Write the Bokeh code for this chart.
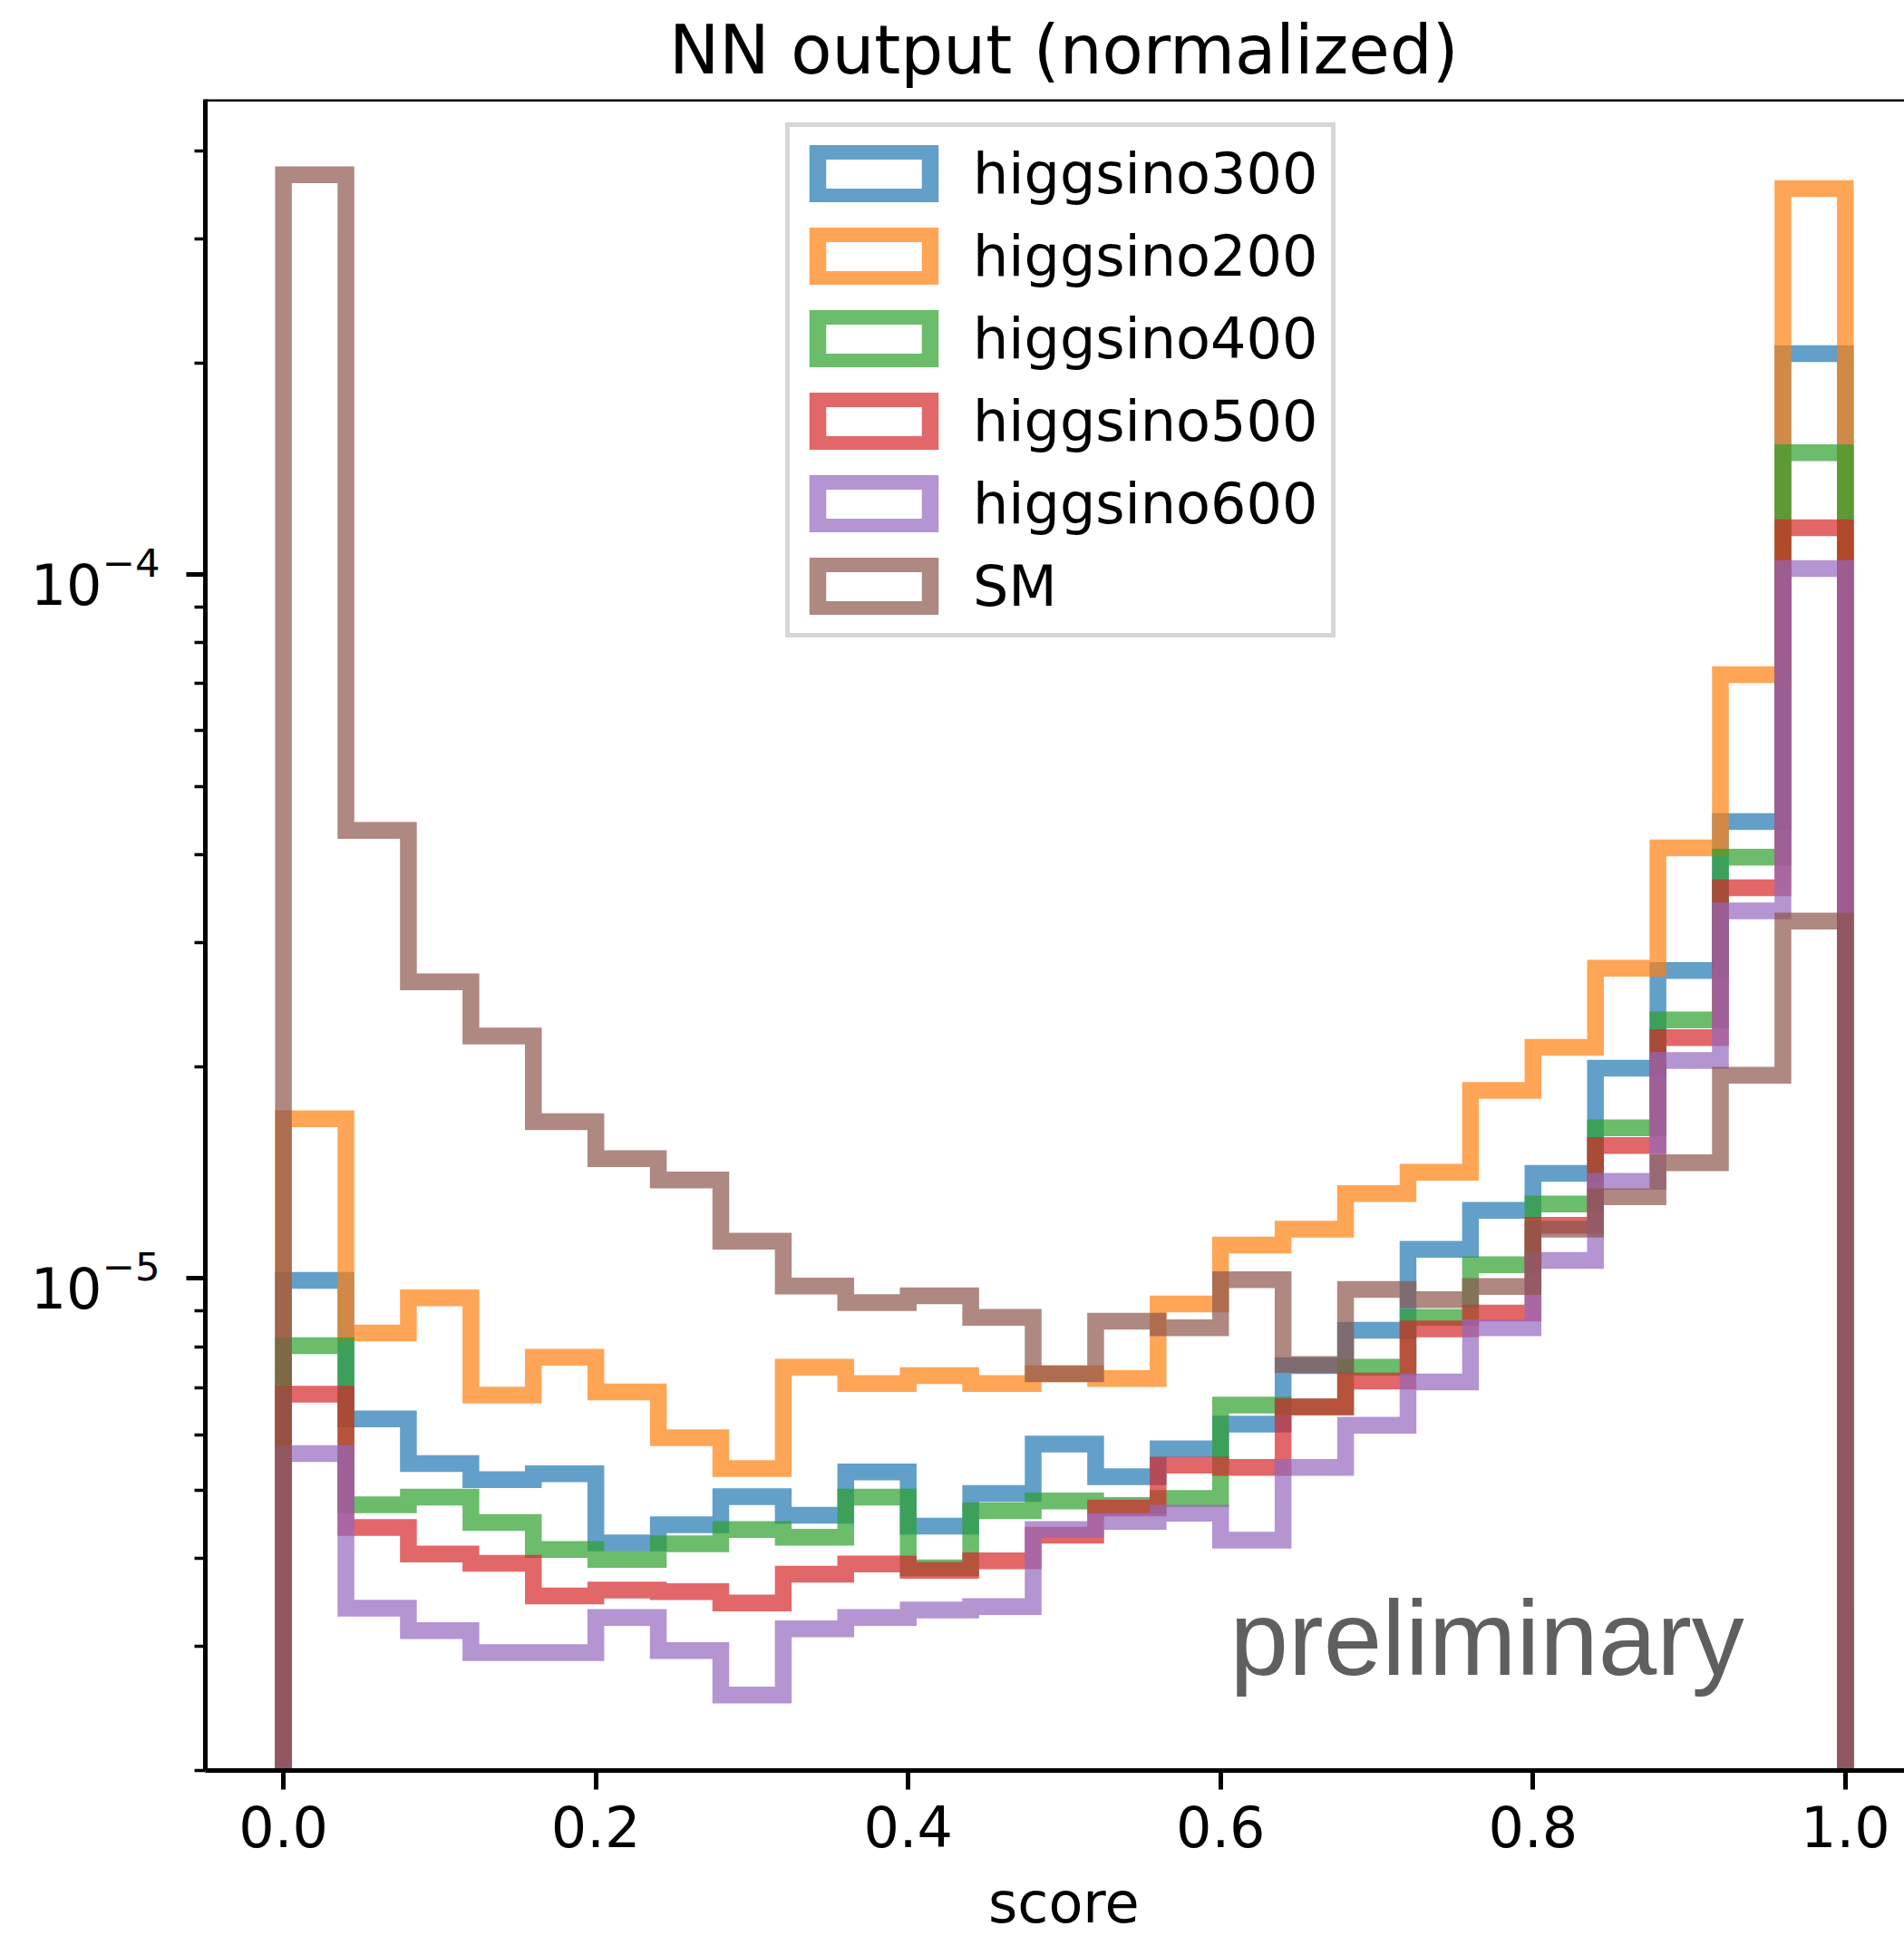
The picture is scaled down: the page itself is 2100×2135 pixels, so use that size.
import numpy as np
from bokeh.plotting import figure
from bokeh.models import (Range1d, FixedTicker, LogTickFormatter, PrintfTickFormatter,
                          Legend, LegendItem, Label, Span, Title)
from bokeh.embed import file_html
from bokeh.resources import INLINE

# ---------------- data ----------------
bin_edges = [0.00, 0.04, 0.08, 0.12, 0.16, 0.20, 0.24, 0.28, 0.32, 0.36, 0.40,
             0.44, 0.48, 0.52, 0.56, 0.60, 0.64, 0.68, 0.72, 0.76, 0.80,
             0.84, 0.88, 0.92, 0.96, 1.00]

higgsino300 = [9.94e-6, 6.32e-6, 5.46e-6, 5.18e-6, 5.28e-6, 4.21e-6, 4.47e-6, 4.90e-6,
               4.61e-6, 5.31e-6, 4.45e-6, 4.95e-6, 5.82e-6, 5.23e-6, 5.73e-6, 6.21e-6,
               7.52e-6, 8.44e-6, 1.10e-5, 1.25e-5, 1.41e-5, 1.99e-5, 2.74e-5, 4.46e-5, 2.06e-4]
higgsino200 = [1.686e-5, 8.37e-6, 9.39e-6, 6.83e-6, 7.73e-6, 6.90e-6, 5.94e-6, 5.37e-6,
               7.48e-6, 7.09e-6, 7.28e-6, 7.09e-6, 7.32e-6, 7.21e-6, 9.20e-6, 1.116e-5,
               1.175e-5, 1.32e-5, 1.416e-5, 1.85e-5, 2.13e-5, 2.76e-5, 4.09e-5, 7.21e-5, 3.535e-4]
higgsino400 = [8.03e-6, 4.77e-6, 4.89e-6, 4.50e-6, 4.12e-6, 3.99e-6, 4.20e-6, 4.40e-6,
               4.29e-6, 4.89e-6, 3.88e-6, 4.68e-6, 4.83e-6, 4.76e-6, 4.87e-6, 6.61e-6,
               6.57e-6, 7.48e-6, 8.81e-6, 1.046e-5, 1.276e-5, 1.637e-5, 2.33e-5, 3.97e-5, 1.49e-4]
higgsino500 = [6.85e-6, 4.43e-6, 4.06e-6, 3.94e-6, 3.54e-6, 3.61e-6, 3.59e-6, 3.46e-6,
               3.80e-6, 3.93e-6, 3.85e-6, 3.97e-6, 4.32e-6, 4.72e-6, 5.43e-6, 5.39e-6,
               6.57e-6, 7.15e-6, 8.48e-6, 8.93e-6, 1.19e-5, 1.545e-5, 2.20e-5, 3.59e-5, 1.166e-4]
higgsino600 = [5.64e-6, 3.40e-6, 3.16e-6, 2.94e-6, 2.94e-6, 3.30e-6, 2.96e-6, 2.56e-6,
               3.18e-6, 3.30e-6, 3.38e-6, 3.42e-6, 4.40e-6, 4.52e-6, 4.64e-6, 4.25e-6,
               5.39e-6, 6.19e-6, 7.13e-6, 8.51e-6, 1.061e-5, 1.374e-5, 2.04e-5, 3.33e-5, 1.02e-4]
SM = [3.70e-4, 4.33e-5, 2.64e-5, 2.21e-5, 1.67e-5, 1.48e-5, 1.38e-5, 1.13e-5,
      9.76e-6, 9.24e-6, 9.45e-6, 8.81e-6, 7.32e-6, 8.70e-6, 8.51e-6, 9.96e-6,
      7.55e-6, 9.65e-6, 9.33e-6, 9.74e-6, 1.175e-5, 1.307e-5, 1.46e-5, 1.945e-5, 3.22e-5]

series_names = ["higgsino300", "higgsino200", "higgsino400", "higgsino500", "higgsino600", "SM"]
series_values = [higgsino300, higgsino200, higgsino400, higgsino500, higgsino600, SM]
series_colors = ["#1f77b4", "#ff7f0e", "#2ca02c", "#d62728", "#9467bd", "#8c564b"]

x_ticks = [0.0, 0.2, 0.4, 0.6, 0.8, 1.0]
y_major_ticks = [1e-5, 1e-4]
y_minor_ticks = [m * 10.0 ** e for e in (-6, -5, -4) for m in range(2, 10)]

# ---------------- layout geometry (pixels) ----------------
FONT = "DejaVu Sans"
W, H = 2100, 2135
FRAME_L, FRAME_T, FRAME_B = 226, 109, 1952
px_per_unit = 1722.7
x_lo = -0.05
x_hi = x_lo + (W - FRAME_L) / px_per_unit
y_lo, y_hi = 2e-6, 4.735e-4
decade_px = (FRAME_B - FRAME_T) / np.log10(y_hi / y_lo)
AXES_CENTER = 0.5 * (1.05 - (-0.05)) * px_per_unit  # px from frame left to axes centre


def data_y(py):
    return 10 ** (np.log10(y_lo) + (FRAME_B - py) / decade_px)


p = figure(width=W, height=H, output_backend="svg", toolbar_location=None,
           x_range=Range1d(x_lo, x_hi), y_range=Range1d(y_lo, y_hi),
           y_axis_type="log",
           min_border_left=FRAME_L, min_border_right=0,
           min_border_top=FRAME_T, min_border_bottom=H - FRAME_B)
p.outline_line_color = None
p.grid.visible = False
p.background_fill_color = "white"
p.border_fill_color = "white"

# title (left-aligned with an offset so that it is centred on the full axes)
TITLE_TEXT = "NN output (normalized)"
TITLE_SIZE = 74
p.title.text = TITLE_TEXT
p.title.align = "left"
p.title.offset = AXES_CENTER - 0.5 * 11.785 * TITLE_SIZE
p.title.text_font = FONT
p.title.text_font_size = f"{TITLE_SIZE}px"
p.title.text_font_style = "normal"
p.title.text_color = "black"
p.title.vertical_align = "top"
p.title.standoff = 20

# x axis
xa = p.xaxis[0]
xa.ticker = FixedTicker(ticks=x_ticks)
xa.formatter = PrintfTickFormatter(format="%.1f")
xa.axis_line_width = 5
xa.major_tick_line_width = 5
xa.major_tick_out = 21
xa.major_tick_in = 0
xa.minor_tick_line_color = None
xa.major_label_text_font = FONT
xa.major_label_text_font_size = "62px"
xa.major_label_text_color = "black"
xa.major_label_standoff = 17
# blank spacer label so the "score" title below sits lower
xa.axis_label = " "
xa.axis_label_text_font_size = "2px"
xa.axis_label_standoff = 15

# x label as a Title below, centred on the full axes
XLAB_SIZE = 62
p.add_layout(Title(text="score", align="left",
                   offset=AXES_CENTER - 0.5 * 2.709 * XLAB_SIZE,
                   text_font=FONT, text_font_size=f"{XLAB_SIZE}px",
                   text_font_style="normal", text_color="black", standoff=0),
             "below")

# y axis
ya = p.yaxis[0]
ya.ticker = FixedTicker(ticks=y_major_ticks, minor_ticks=y_minor_ticks)
ya.formatter = LogTickFormatter()
ya.axis_line_width = 5
ya.major_tick_line_width = 5
ya.major_tick_out = 21
ya.major_tick_in = 0
ya.minor_tick_line_width = 3.6
ya.minor_tick_out = 12
ya.minor_tick_in = 0
ya.major_label_text_font = FONT
ya.major_label_text_font_size = "62px"
ya.major_label_text_color = "black"
ya.major_label_standoff = 29

# top spine
p.add_layout(Span(location=y_hi, dimension="width", line_color="black", line_width=5))

# ---------------- histogram step lines ----------------
BASE = 1e-9
edges = np.asarray(bin_edges)
items = []
for name, vals, color in zip(series_names, series_values, series_colors):
    v = np.asarray(vals)
    xs = np.concatenate([[edges[0]], np.repeat(edges, 2)[1:-1], [edges[-1]]])
    ys = np.concatenate([[BASE], np.repeat(v, 2), [BASE]])
    p.line(xs, ys, line_color=color, line_alpha=0.7, line_width=18.5,
           line_join="miter", line_cap="butt")
    # legend handle: hollow rectangle (no visible data)
    r = p.quad(left=[np.nan], right=[np.nan], top=[np.nan], bottom=[np.nan],
               fill_color=None, line_color=color, line_alpha=0.7,
               line_width=18.5, line_join="miter")
    items.append(LegendItem(label=name, renderers=[r]))

legend = Legend(items=items, location=(640, 1249), orientation="vertical",
                glyph_width=155, glyph_height=63, label_standoff=32,
                spacing=18, padding=15, margin=0,
                label_text_font=FONT, label_text_font_size="62px",
                label_text_color="black",
                border_line_color="#cccccc", border_line_alpha=0.8,
                border_line_width=5,
                background_fill_color="white", background_fill_alpha=0.8)
p.add_layout(legend, "center")

p.add_layout(Label(x=0.606, y=data_y(1806), x_units="data", y_units="data",
                   text="preliminary", text_font="Liberation Sans",
                   text_font_size="116px", text_color="#5f5f5f",
                   text_align="left", text_baseline="alphabetic"))

open("out.html", "w").write(file_html(p, INLINE))
